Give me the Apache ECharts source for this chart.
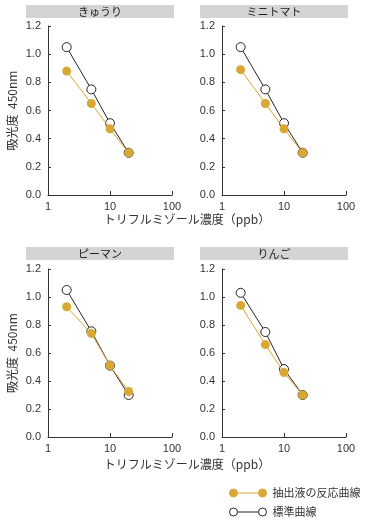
<!DOCTYPE html>
<html><head><meta charset="utf-8">
<script src="https://cdn.jsdelivr.net/npm/echarts@6/dist/echarts.min.js"></script>
<style>html,body{margin:0;padding:0;background:#fff}#c{width:368px;height:523px}</style>
</head><body><div id="c"></div>
<script>
const xVals = [2, 5, 10, 20];
const panelTitles = ['きゅうり', 'ミニトマト', 'ピーマン', 'りんご'];
const stdCucumber = [1.05, 0.75, 0.51, 0.30];
const extCucumber = [0.88, 0.65, 0.47, 0.30];
const stdTomato = [1.05, 0.75, 0.51, 0.30];
const extTomato = [0.89, 0.65, 0.47, 0.30];
const stdPepper = [1.05, 0.755, 0.51, 0.30];
const extPepper = [0.93, 0.74, 0.51, 0.325];
const stdApple = [1.03, 0.75, 0.485, 0.30];
const extApple = [0.94, 0.66, 0.46, 0.30];
const yTicks = [0, 0.2, 0.4, 0.6, 0.8, 1.0, 1.2];
const xTicks = [1, 10, 100];
const extName = '抽出液の反応曲線';
const stdName = '標準曲線';
const yTitle = '吸光度  450nm';
const xTitle = 'トリフルミゾール濃度（ppb）';

const stdSets = [stdCucumber, stdTomato, stdPepper, stdApple];
const extSets = [extCucumber, extTomato, extPepper, extApple];

const ORANGE = '#D9A733';
const DARK = '#2a2226';
const FONT = '"Liberation Sans", "Noto Sans CJK JP", sans-serif';
const JFONT = '"Noto Sans CJK JP", "Liberation Sans", sans-serif';

const grids = [
  {left: 48, top: 26, width: 124, height: 169},
  {left: 222, top: 26, width: 124, height: 169},
  {left: 48, top: 269, width: 124, height: 168},
  {left: 222, top: 269, width: 124, height: 168}
];
const bars = [
  {x: 26, y: 5}, {x: 200, y: 5}, {x: 26, y: 247}, {x: 200, y: 247}
];

const xAxes = grids.map((g, i) => ({
  type: 'log', logBase: 10, gridIndex: i, min: xTicks[0], max: xTicks[xTicks.length - 1],
  axisLine: {lineStyle: {color: '#333', width: 1}},
  axisTick: {inside: true, length: 4, lineStyle: {color: '#333'}},
  minorTick: {show: false},
  splitLine: {show: false},
  axisLabel: {color: '#333', fontSize: 11, fontFamily: FONT, margin: 6}
}));
const yAxes = grids.map((g, i) => ({
  type: 'value', gridIndex: i, min: yTicks[0], max: yTicks[yTicks.length - 1], interval: 0.2,
  axisLine: {show: true, lineStyle: {color: '#333', width: 1}},
  axisTick: {show: true, inside: true, length: 3, lineStyle: {color: '#333'}},
  splitLine: {show: false},
  axisLabel: {color: '#333', fontSize: 11, fontFamily: FONT, margin: 7, formatter: v => v.toFixed(1)},
  name: (i % 2 === 0) ? yTitle : '',
  nameLocation: 'middle', nameRotate: 90, nameGap: 30,
  nameTextStyle: {color: '#3a3030', fontSize: 12, fontFamily: JFONT}
}));

const series = [];
grids.forEach((g, i) => {
  series.push({
    name: stdName, type: 'line', xAxisIndex: i, yAxisIndex: i, z: 2,
    data: xVals.map((x, k) => [x, stdSets[i][k]]),
    symbol: 'circle', symbolSize: 9,
    lineStyle: {color: DARK, width: 1},
    itemStyle: {color: '#fff', borderColor: DARK, borderWidth: 1},
    emphasis: {disabled: true}, animation: false
  });
  series.push({
    name: extName, type: 'line', xAxisIndex: i, yAxisIndex: i, z: 3,
    data: xVals.map((x, k) => [x, extSets[i][k]]),
    symbol: 'circle', symbolSize: 9,
    lineStyle: {color: ORANGE, width: 1},
    itemStyle: {color: ORANGE, borderColor: ORANGE, borderWidth: 0},
    emphasis: {disabled: true}, animation: false
  });
});

const graphics = [];
bars.forEach((b, i) => {
  graphics.push({type: 'rect', left: b.x, top: b.y, shape: {width: 148, height: 13}, style: {fill: '#d4d4d4'}, z: 1});
  graphics.push({type: 'text', x: b.x + 74, y: b.y + 6.5, style: {text: panelTitles[i], fill: '#222', font: '11px ' + JFONT, textAlign: 'center', textVerticalAlign: 'middle'}, z: 2});
});
graphics.push({type: 'text', x: 187, y: 219, style: {text: xTitle, fill: '#333', font: '12px ' + JFONT, textAlign: 'center', textVerticalAlign: 'middle'}});
graphics.push({type: 'text', x: 187, y: 464, style: {text: xTitle, fill: '#333', font: '12px ' + JFONT, textAlign: 'center', textVerticalAlign: 'middle'}});

const iconPath = 'path://M1,5 A4,4 0 1,0 9,5 A4,4 0 1,0 1,5 Z M30,5 A4,4 0 1,0 38,5 A4,4 0 1,0 30,5 Z M9,5 L30,5 M0,0 L0,0 M39,10 L39,10';

const chart = echarts.init(document.getElementById('c'), null, {renderer: 'canvas'});
chart.setOption({
  animation: false,
  backgroundColor: '#fff',
  grid: grids,
  xAxis: xAxes,
  yAxis: yAxes,
  series: series,
  graphic: graphics,
  legend: {
    data: [
      {name: extName, icon: iconPath, itemStyle: {color: ORANGE, borderColor: ORANGE, borderWidth: 1}},
      {name: stdName, icon: iconPath, itemStyle: {color: '#fff', borderColor: DARK, borderWidth: 1}}
    ],
    orient: 'vertical', left: 228, top: 487, padding: 0, itemWidth: 39, itemHeight: 10, itemGap: 7,
    selectedMode: false,
    textStyle: {color: '#333', fontSize: 11, lineHeight: 12, fontFamily: JFONT}
  }
});
</script></body></html>
